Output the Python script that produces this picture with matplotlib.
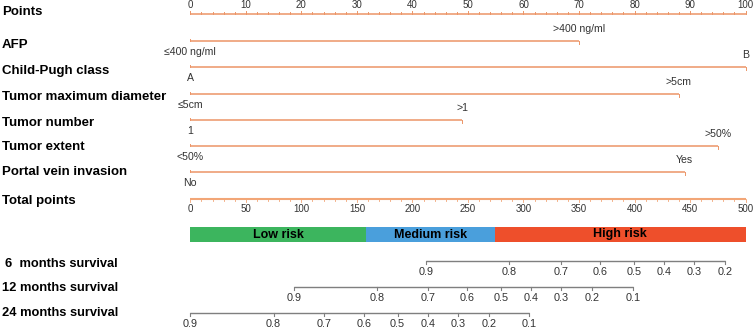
import matplotlib
matplotlib.use('Agg')
import matplotlib.pyplot as plt
from matplotlib.patches import Rectangle

plt.rcParams['font.family'] = ['Liberation Sans', 'DejaVu Sans']

# scale axes
point_ticks = list(range(0, 101, 10))
total_ticks = list(range(0, 501, 50))

# predictors (points at the high level, low level is 0)
variables = ['AFP', 'Child-Pugh class', 'Tumor maximum diameter', 'Tumor number',
             'Tumor extent', 'Portal vein invasion']
low_labels = ['\u2264400 ng/ml', 'A', '\u22645cm', '1', '<50%', 'No']
high_labels = ['>400 ng/ml', 'B', '>5cm', '>1', '>50%', 'Yes']
high_points = [70, 100, 88, 49, 95, 89]

# risk groups on total points
risk_names = ['Low risk', 'Medium risk', 'High risk']
risk_edges = [0, 158, 274, 500]
risk_colors = ['#3cb55e', '#4a9fdc', '#ee4f2b']

# survival scales: probability -> total points
surv_names = ['6  months survival', '12 months survival', '24 months survival']
surv_probs = [
    [0.9, 0.8, 0.7, 0.6, 0.5, 0.4, 0.3, 0.2],
    [0.9, 0.8, 0.7, 0.6, 0.5, 0.4, 0.3, 0.2, 0.1],
    [0.9, 0.8, 0.7, 0.6, 0.5, 0.4, 0.3, 0.2, 0.1],
]
surv_points = [
    [212.6, 286.8, 333.6, 368.7, 399.4, 426.4, 453.4, 481.5],
    [93.6, 168.0, 214.4, 249.5, 279.6, 306.9, 333.9, 361.5, 399.0],
    [0.0, 75.0, 120.6, 156.4, 186.6, 214.0, 241.0, 269.0, 305.0],
]

W, H = 753, 333
fig = plt.figure(figsize=(W / 100, H / 100), dpi=100)
ax = fig.add_axes([0, 0, 1, 1])
px0, px500 = 190.3, 745.6
k = (px500 - px0) / 500
ax.set_xlim(-px0 / k, (W - px0) / k)
ax.set_ylim(H, 0)
ax.axis('off')

LINE = '#ec9567'
GREY = '#7f7f7f'
TXT = '#333333'
lab_x = 2 / W


def row_label(y, text, size=9.5):
    ax.text(lab_x, y, text, transform=ax.get_yaxis_transform(), ha='left', va='center',
            fontsize=size, fontweight='bold', color='black')


# Points axis
y_pts = 14
ax.plot([0, 500], [y_pts, y_pts], color=LINE, lw=1.1, solid_capstyle='butt')
for v in range(0, 101, 2):
    ln = 3 if v % 10 == 0 else 2
    ax.plot([v * 5, v * 5], [y_pts, y_pts - ln], color=LINE, lw=0.7)
for v in point_ticks:
    ax.text(v * 5, y_pts - 4.5, str(v), ha='center', va='bottom', fontsize=7, color=TXT)
row_label(12, 'Points')

# predictors
rows_y = [41, 67, 94, 120, 146, 172]
lab_y = [45, 71, 97, 123, 147, 172]
for name, lo, hi, pts, y, ly in zip(variables, low_labels, high_labels, high_points, rows_y, lab_y):
    ax.plot([0, pts * 5], [y, y], color=LINE, lw=1.1, solid_capstyle='butt')
    ax.plot([0, 0], [y, y - 2.5], color=LINE, lw=0.7)
    ax.plot([pts * 5, pts * 5], [y, y + 2.5], color=LINE, lw=0.7)
    ax.text(0, y + 11, lo, ha='center', va='center', fontsize=7.6, color=TXT)
    ax.text(pts * 5, y - 12, hi, ha='center', va='center', fontsize=7.6, color=TXT)
    row_label(ly, name)

# Total points axis
y_tot = 199
ax.plot([0, 500], [y_tot, y_tot], color='#f2a677', lw=1.5, solid_capstyle='butt')
for v in range(0, 501, 10):
    ln = 3 if v % 50 == 0 else 2
    ax.plot([v, v], [y_tot, y_tot + ln], color='#f2a677', lw=0.6)
for v in total_ticks:
    ax.text(v, y_tot + 5.5, str(v), ha='center', va='top', fontsize=7, color=TXT)
row_label(201, 'Total points')

# risk bar
bar_top, bar_h = 227, 15
for name, a, b, c in zip(risk_names, risk_edges[:-1], risk_edges[1:], risk_colors):
    ax.add_patch(Rectangle((a, bar_top), b - a, bar_h, facecolor=c, edgecolor='none'))
    ax.text((a + b) / 2, bar_top + bar_h / 2, name, ha='center', va='center',
            fontsize=9, fontweight='bold', color='black')

# survival scales
surv_y = [261, 287, 313]
surv_lab_y = [264, 288, 313]
for name, probs, pts, y, ly in zip(surv_names, surv_probs, surv_points, surv_y, surv_lab_y):
    ax.plot([min(pts), max(pts)], [y, y], color=GREY, lw=1.0, solid_capstyle='butt')
    for p, v in zip(probs, pts):
        ax.plot([v, v], [y, y + 3], color=GREY, lw=0.8)
        ax.text(v, y + 6, f'{p:.1f}', ha='center', va='top', fontsize=7.8, color=TXT)
    ax.text(118 / W, ly, name, transform=ax.get_yaxis_transform(), ha='right', va='center',
            fontsize=9.3, fontweight='bold', color='black')

fig.savefig('out.png', dpi=100)
